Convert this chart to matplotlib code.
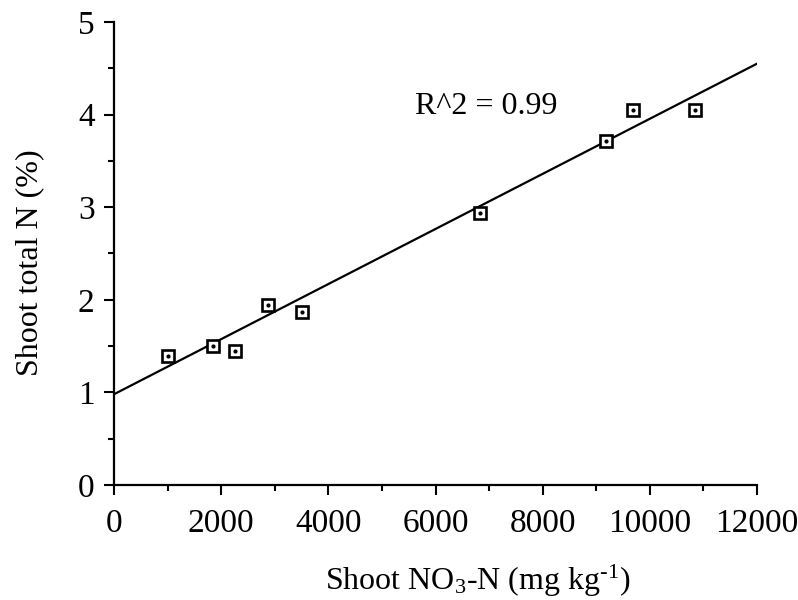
import matplotlib
matplotlib.use("Agg")
import matplotlib.pyplot as plt
from matplotlib.ticker import MultipleLocator

plt.rcParams['font.family'] = ['Liberation Serif', 'DejaVu Serif']
plt.rcParams['mathtext.fontset'] = 'custom'
plt.rcParams['mathtext.rm'] = 'Liberation Serif'
plt.rcParams['mathtext.it'] = 'Liberation Serif:italic'

# data
shoot_no3 = [1000, 1850, 2260, 2870, 3510, 6830, 9190, 9690, 10850]
shoot_total_n = [1.39, 1.50, 1.45, 1.94, 1.87, 2.94, 3.72, 4.05, 4.05]
fit_x = [0, 12000]
fit_y = [0.98, 4.55]
r2_label = "R^2 = 0.99"
x_ticks = [0, 2000, 4000, 6000, 8000, 10000, 12000]
y_ticks = [0, 1, 2, 3, 4, 5]

fig = plt.figure(figsize=(7.98, 6.0), dpi=100)
ax = fig.add_axes([114/798, 1-485/600, (757-114)/798, (485-22)/600])

ax.plot(fit_x, fit_y, color='black', lw=1.6, zorder=2)
ax.plot(shoot_no3, shoot_total_n, ls='none', marker='s', ms=9,
        mfc='white', mec='black', mew=1.9, zorder=3)
ax.plot(shoot_no3, shoot_total_n, ls='none', marker='o', ms=2,
        mfc='black', mec='black', zorder=4)

ax.set_xlim(0, 12000)
ax.set_ylim(0, 5)
ax.set_xticks(x_ticks)
ax.set_yticks(y_ticks)
ax.xaxis.set_minor_locator(MultipleLocator(1000))
ax.yaxis.set_minor_locator(MultipleLocator(0.5))

for s in ['top', 'right']:
    ax.spines[s].set_visible(False)
for s in ['left', 'bottom']:
    ax.spines[s].set_linewidth(1.6)

ax.tick_params(axis='both', which='major', direction='out', length=7, width=1.5,
               labelsize=24)
ax.tick_params(axis='x', which='major', pad=10)
ax.tick_params(axis='y', which='major', pad=7)
ax.tick_params(which='minor', direction='out', length=4.5, width=1.5)

ax.text(5620, 4.09, r2_label, fontsize=23, va='center', ha='left')

ax.text(0.566, -0.208, r'Shoot NO$_3$-N (mg kg$^{\text{-}1}$)', transform=ax.transAxes,
        fontsize=23, ha='center', va='center')
ax.text(-0.131, 0.48, 'Shoot total N (%)', transform=ax.transAxes,
        fontsize=23, ha='center', va='center', rotation=90)

fig.savefig('out.png', dpi=100)
